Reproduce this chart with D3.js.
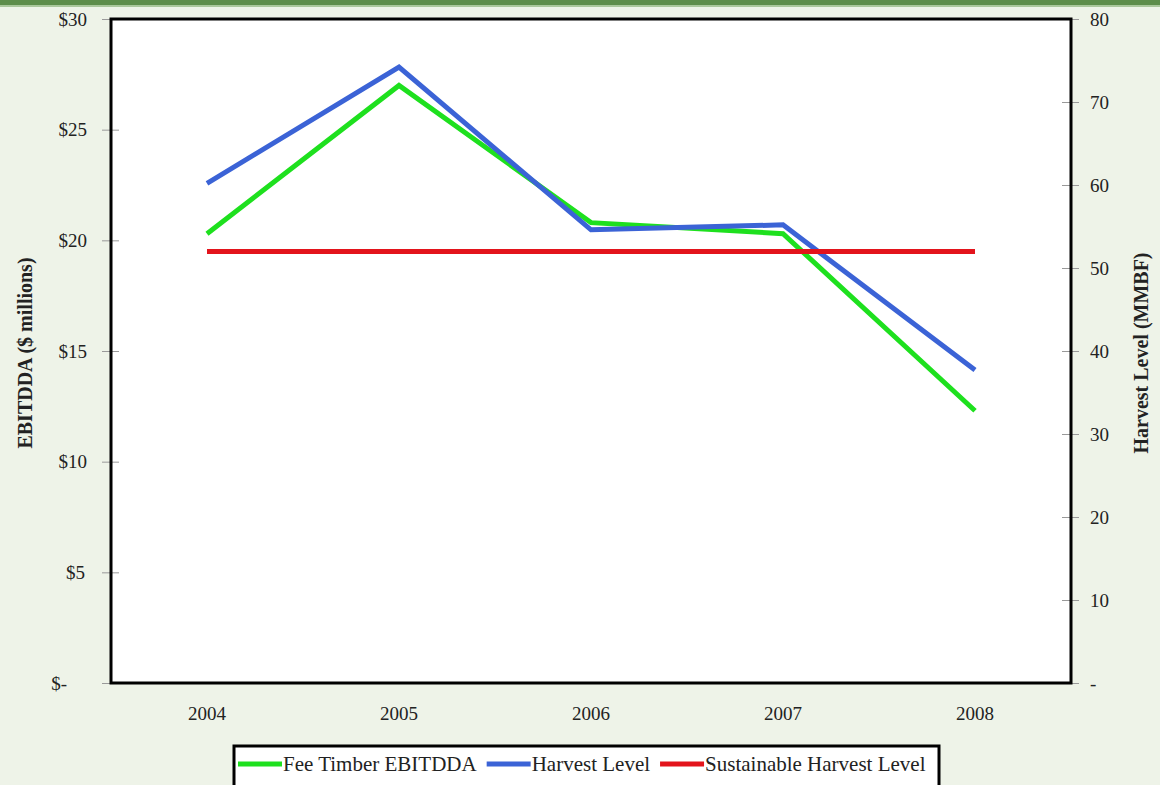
<!DOCTYPE html>
<html>
<head>
<meta charset="utf-8">
<script src="https://cdn.jsdelivr.net/npm/d3@7"></script>
<style>
  html, body { margin: 0; padding: 0; background: #eef3e8; }
  svg { display: block; }
</style>
</head>
<body>
<svg id="chart_svg" width="1160" height="785"></svg>
<script>
// data
const years = ['2004', '2005', '2006', '2007', '2008'];
const ebitdda = [20.3, 27.0, 20.8, 20.3, 12.3];      // $ millions, left axis
const harvest = [60.2, 74.2, 54.6, 55.2, 37.7];      // MMBF, right axis
const sustainable = [52, 52, 52, 52, 52];            // MMBF, right axis
const leftTicks = [0, 5, 10, 15, 20, 25, 30];
const rightTicks = [0, 10, 20, 30, 40, 50, 60, 70, 80];

const series = [
  { name: 'Fee Timber EBITDDA', values: ebitdda, axis: 'left', color: '#1ee01e' },
  { name: 'Harvest Level', values: harvest, axis: 'right', color: '#3b63d6' },
  { name: 'Sustainable Harvest Level', values: sustainable, axis: 'right', color: '#e3141c' },
];

const FONT = '"Liberation Serif", "Times New Roman", "DejaVu Serif", serif';

const svg = d3.select('#chart_svg');
const width = 1160;
const height = 785;

const margin = { top: 19, bottom: 102, left: 111, right: 89 };
const plotW = width - margin.left - margin.right;
const plotH = height - margin.top - margin.bottom;

// top green border strip
svg.append('rect').attr('x', 0).attr('y', 0).attr('width', width).attr('height', 5).attr('fill', '#5d8d4b');
svg.append('rect').attr('x', 0).attr('y', 5).attr('width', width).attr('height', 2).attr('fill', '#aac79c');

const xScale = d3.scaleBand().domain(years).range([0, plotW]);
const yLeft = d3.scaleLinear().domain([0, 30]).range([plotH, 0]);
const yRight = d3.scaleLinear().domain([0, 80]).range([plotH, 0]);

const g = svg.append('g').attr('transform', 'translate(' + margin.left + ',' + margin.top + ')');

// plot background
g.append('rect')
  .attr('x', 0).attr('y', 0)
  .attr('width', plotW).attr('height', plotH)
  .attr('fill', '#ffffff');

/**
 * Axes
 */
const leftAxis = d3.axisLeft(yLeft)
  .tickValues(leftTicks)
  .tickSize(0)
  .tickPadding(24)
  .tickFormat((d) => d === 0 ? '$-' : '$' + d);

const gLeft = g.append('g').call(leftAxis);
gLeft.select('.domain').remove();
gLeft.selectAll('.tick line').remove();
gLeft.selectAll('.tick')
  .append('line')
  .attr('x1', -9).attr('x2', 8)
  .attr('stroke', '#999').attr('stroke-width', 1);
gLeft.selectAll('.tick text')
  .style('font-family', FONT)
  .style('font-size', '19px')
  .attr('fill', '#222')
  .attr('dx', (d) => d === 0 ? -20 : (d === 5 ? -2 : 0));

const rightAxis = d3.axisRight(yRight)
  .tickValues(rightTicks)
  .tickSize(0)
  .tickPadding(19)
  .tickFormat((d) => d === 0 ? '-' : d);

const gRight = g.append('g').attr('transform', 'translate(' + plotW + ',0)').call(rightAxis);
gRight.select('.domain').remove();
gRight.selectAll('.tick line').remove();
gRight.selectAll('.tick')
  .append('line')
  .attr('x1', -9).attr('x2', 8)
  .attr('stroke', '#999').attr('stroke-width', 1);
gRight.selectAll('.tick text')
  .style('font-family', FONT)
  .style('font-size', '19px')
  .attr('fill', '#222');

const bottomAxis = d3.axisBottom(xScale).tickSize(0).tickPadding(24);
const gBottom = g.append('g').attr('transform', 'translate(0,' + plotH + ')').call(bottomAxis);
gBottom.select('.domain').remove();
gBottom.selectAll('.tick text')
  .style('font-family', FONT)
  .style('font-size', '19px')
  .attr('fill', '#222');

/**
 * Lines
 */
series.forEach((s) => {
  const yS = s.axis === 'left' ? yLeft : yRight;
  const line = d3.line()
    .x((d, i) => xScale(years[i]) + xScale.bandwidth() / 2)
    .y((d) => yS(d));
  g.append('path')
    .datum(s.values)
    .attr('fill', 'none')
    .attr('stroke', s.color)
    .attr('stroke-width', 5)
    .attr('stroke-linejoin', 'miter')
    .attr('d', line);
});

// plot frame
g.append('rect')
  .attr('x', 0).attr('y', 0)
  .attr('width', plotW).attr('height', plotH)
  .attr('fill', 'none')
  .attr('stroke', '#000')
  .attr('stroke-width', 3);

/**
 * Axis titles
 */
svg.append('text')
  .attr('transform', 'translate(25,' + (margin.top + plotH / 2 + 2) + ') rotate(-90)')
  .attr('text-anchor', 'middle')
  .attr('dy', '0.35em')
  .style('font-family', FONT)
  .style('font-size', '20px')
  .style('font-weight', 'bold')
  .attr('fill', '#222')
  .text('EBITDDA ($ millions)');

svg.append('text')
  .attr('transform', 'translate(1141,' + (margin.top + plotH / 2 + 2) + ') rotate(-90)')
  .attr('text-anchor', 'middle')
  .attr('dy', '0.35em')
  .style('font-family', FONT)
  .style('font-size', '20px')
  .style('font-weight', 'bold')
  .attr('fill', '#222')
  .text('Harvest Level (MMBF)');

/**
 * Legend
 */
const legend = svg.append('g').attr('transform', 'translate(234,746)');
legend.append('rect')
  .attr('x', 0).attr('y', 0)
  .attr('width', 705).attr('height', 44)
  .attr('fill', '#ffffff')
  .attr('stroke', '#000')
  .attr('stroke-width', 3);

let lx = 4;
series.forEach((s) => {
  const item = legend.append('g').attr('transform', 'translate(' + lx + ',0)');
  item.append('line')
    .attr('x1', 0).attr('x2', 44)
    .attr('y1', 18).attr('y2', 18)
    .attr('stroke', s.color)
    .attr('stroke-width', 5);
  const t = item.append('text')
    .attr('x', 45).attr('y', 25)
    .style('font-family', FONT)
    .style('font-size', '21px')
    .attr('fill', '#222')
    .text(s.name);
  lx += 45 + t.node().getComputedTextLength() + 10;
});
</script>
</body>
</html>
